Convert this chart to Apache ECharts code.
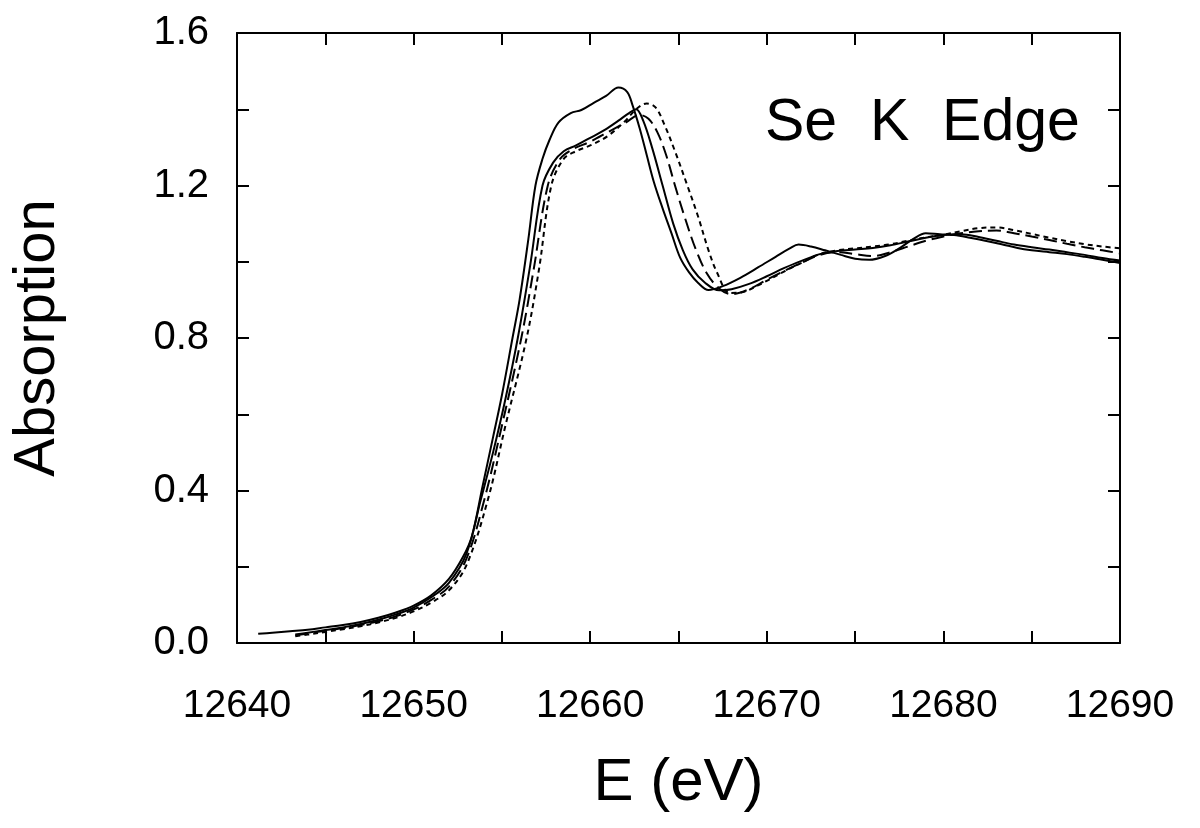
<!DOCTYPE html>
<html>
<head>
<meta charset="utf-8">
<script src="https://cdn.jsdelivr.net/npm/echarts@6/dist/echarts.min.js"></script>
<style>html,body{margin:0;padding:0;background:#fff}#c{width:1200px;height:828px}</style>
</head>
<body>
<div id="c"></div>
<script>
// Series 1 (solid, lowest-energy edge)
var eA = [12641.2,12642,12643,12644,12645,12646,12647,12648,12649,12650,12651,12652,12652.8,12653.3,12653.9,12654.5,12655,12655.6,12656,12656.5,12656.9,12657.3,12657.7,12658.2,12658.9,12659.5,12660.2,12660.9,12661.6,12662.1,12662.4,12662.8,12663.2,12663.6,12664.1,12664.6,12665.1,12665.6,12666.1,12666.7,12667.5,12668.5,12669.5,12670.5,12671.3,12671.8,12672.5,12673.3,12674.2,12675,12675.8,12676.7,12677.5,12678.3,12679,12679.8,12680.6,12681.5,12682.5,12683.3,12684.2,12685,12686,12687,12688,12689,12690];
var muA = [0.024,0.027,0.031,0.035,0.041,0.047,0.055,0.066,0.08,0.098,0.125,0.168,0.226,0.28,0.41,0.54,0.65,0.8,0.9,1.06,1.2,1.27,1.32,1.365,1.39,1.398,1.417,1.435,1.457,1.445,1.41,1.35,1.28,1.21,1.14,1.075,1.01,0.972,0.945,0.926,0.936,0.958,0.985,1.013,1.035,1.045,1.04,1.03,1.018,1.008,1.005,1.015,1.035,1.06,1.075,1.072,1.07,1.063,1.054,1.046,1.036,1.03,1.025,1.02,1.013,1.005,0.997];
// Series 2 (solid)
var eB = [12643.3,12644,12645,12646,12647,12648,12649,12650,12651,12652,12653,12653.8,12654.5,12655.2,12655.9,12656.6,12657.3,12657.9,12658.5,12659.2,12660,12660.8,12661.6,12662.2,12662.6,12663,12663.5,12664.1,12664.7,12665.25,12665.8,12666.5,12667.3,12668,12669,12670,12671,12672,12673,12674,12675,12676,12677,12678,12679,12680,12681,12682,12683,12684,12685,12686,12687,12688,12689,12690];
var muB = [0.022,0.027,0.034,0.041,0.05,0.061,0.075,0.093,0.12,0.158,0.235,0.375,0.5,0.64,0.8,0.99,1.2,1.26,1.29,1.305,1.325,1.345,1.37,1.39,1.4,1.37,1.3,1.2,1.1,1.03,0.98,0.945,0.925,0.928,0.942,0.962,0.984,1.003,1.02,1.028,1.032,1.036,1.043,1.053,1.063,1.07,1.072,1.065,1.055,1.045,1.038,1.032,1.025,1.018,1.01,1.003];
// Series 3 (long dash)
var eC = [12643.3,12644,12645,12646,12647,12648,12649,12650,12651,12652,12653,12654,12655,12656.1,12656.8,12657.6,12658.3,12659,12660,12661,12662,12662.8,12663.3,12663.8,12664.3,12664.8,12665.4,12666,12666.6,12667.3,12668,12669,12670,12671,12672,12673,12674,12675,12676,12677,12678,12679,12680,12681,12682,12683,12684,12685,12686,12687,12688,12689,12690];
var muC = [0.02,0.025,0.032,0.039,0.047,0.057,0.07,0.088,0.113,0.148,0.222,0.375,0.57,0.8,0.98,1.2,1.27,1.295,1.315,1.34,1.365,1.385,1.375,1.34,1.28,1.2,1.11,1.03,0.97,0.93,0.915,0.928,0.953,0.976,0.998,1.018,1.025,1.02,1.015,1.025,1.04,1.055,1.066,1.075,1.08,1.082,1.075,1.066,1.057,1.047,1.038,1.03,1.022];
// Series 4 (short dash, highest-energy edge)
var eD = [12643.3,12644,12645,12646,12647,12648,12649,12650,12651,12652,12653,12654.2,12655.2,12656.4,12657.1,12657.8,12658.5,12659.2,12660,12661,12662,12662.6,12663.2,12663.7,12664.2,12664.8,12665.5,12666.1,12666.7,12667.2,12667.9,12668.6,12669.5,12670,12671,12672,12673,12674,12675,12676,12677,12678,12679,12680,12681,12682,12683,12684,12685,12686,12687,12688,12689,12690];
var muD = [0.018,0.022,0.029,0.036,0.044,0.054,0.066,0.083,0.106,0.138,0.205,0.375,0.57,0.8,0.98,1.2,1.27,1.29,1.305,1.33,1.37,1.4,1.415,1.405,1.36,1.29,1.2,1.12,1.03,0.97,0.918,0.92,0.938,0.95,0.975,0.998,1.02,1.03,1.035,1.04,1.046,1.055,1.064,1.071,1.08,1.088,1.09,1.083,1.073,1.063,1.054,1.046,1.04,1.035];

var xMin = 12640, xMax = 12690, xStep = 5, xLabelStep = 10;
var yMin = 0, yMax = 1.6, yStep = 0.2, yLabelStep = 0.4;
var xTitle = 'E (eV)', yTitle = 'Absorption', panelLabel = 'Se  K  Edge';

function zip(xs, ys) { return xs.map(function (x, i) { return [x, ys[i]]; }); }
function isMult(v, s) { var r = v / s; return Math.abs(r - Math.round(r)) < 1e-6; }

var FONT = 'Liberation Sans, Arial, Helvetica, sans-serif';
var axisLineStyle = { color: '#000', width: 2 };

var chart = echarts.init(document.getElementById('c'), null, { renderer: 'canvas' });

function lineSeries(name, xs, ys, type) {
  return {
    name: name, type: 'line', data: zip(xs, ys), xAxisIndex: 0, yAxisIndex: 0,
    showSymbol: false, smooth: 0.35, animation: false,
    lineStyle: { color: '#000', width: 2, type: type }
  };
}

chart.setOption({
  backgroundColor: '#fff',
  animation: false,
  grid: { left: 237, right: 80, top: 33, bottom: 185 },
  xAxis: [{
    type: 'value', min: xMin, max: xMax, interval: xStep, position: 'bottom',
    name: xTitle, nameLocation: 'middle', nameGap: 110,
    nameTextStyle: { fontFamily: FONT, fontSize: 60, color: '#000' },
    axisLine: { show: true, onZero: false, lineStyle: axisLineStyle },
    axisTick: { show: true, inside: true, length: 12, lineStyle: { color: '#000', width: 2 } },
    axisLabel: {
      fontFamily: FONT, fontSize: 39, color: '#000', margin: 44,
      formatter: function (v) { return isMult(v, xLabelStep) ? String(Math.round(v)) : ''; }
    },
    splitLine: { show: false }
  }, {
    type: 'value', min: xMin, max: xMax, interval: xStep, position: 'top',
    axisLine: { show: true, onZero: false, lineStyle: axisLineStyle },
    axisTick: { show: true, inside: true, length: 12, lineStyle: { color: '#000', width: 2 } },
    axisLabel: { show: false }, splitLine: { show: false }
  }],
  yAxis: [{
    type: 'value', min: yMin, max: yMax, interval: yStep, position: 'left',
    name: yTitle, nameLocation: 'middle', nameGap: 170, nameRotate: 90,
    nameTextStyle: { fontFamily: FONT, fontSize: 58, color: '#000' },
    axisLine: { show: true, onZero: false, lineStyle: axisLineStyle },
    axisTick: { show: true, inside: true, length: 12, lineStyle: { color: '#000', width: 2 } },
    axisLabel: {
      fontFamily: FONT, fontSize: 40, color: '#000', margin: 28,
      formatter: function (v) { return isMult(v, yLabelStep) ? v.toFixed(1) : ''; }
    },
    splitLine: { show: false }
  }, {
    type: 'value', min: yMin, max: yMax, interval: yStep, position: 'right',
    axisLine: { show: true, onZero: false, lineStyle: axisLineStyle },
    axisTick: { show: true, inside: true, length: 12, lineStyle: { color: '#000', width: 2 } },
    axisLabel: { show: false }, splitLine: { show: false }
  }],
  graphic: [{
    type: 'text', left: 765, top: 94,
    style: { text: panelLabel, fontFamily: FONT, fontSize: 59, fill: '#000' }
  }],
  series: [
    lineSeries('A', eA, muA, 'solid'),
    lineSeries('B', eB, muB, 'solid'),
    lineSeries('C', eC, muC, [13, 6]),
    lineSeries('D', eD, muD, [5, 4])
  ]
});
</script>
</body>
</html>
